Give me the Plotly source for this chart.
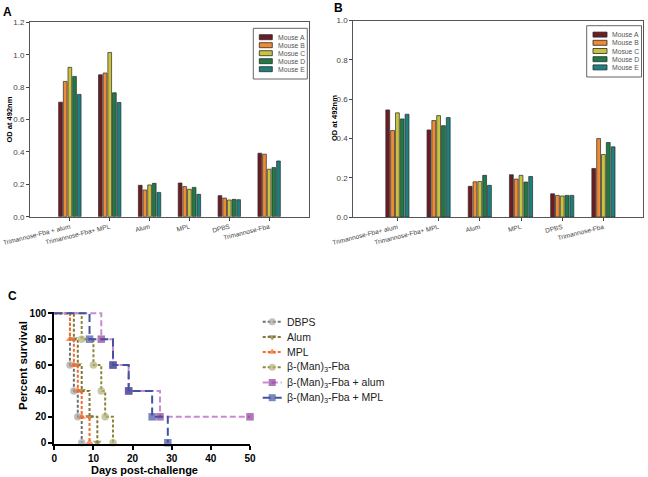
import plotly.graph_objects as go

# ---------------- data ----------------
groups_A = ["Trimannose-Fba + alum", "Trimannose-Fba+ MPL", "Alum", "MPL", "DPBS", "Trimannose-Fba"]
groups_B = ["Trimannose-Fba+ alum", "Trimannose-Fba+ MPL", "Alum", "MPL", "DPBS", "Trimannose-Fba"]
mice = ["Mouse A", "Mouse B", "Mosue C", "Mouse D", "Mouse E"]

A_mouse_a = [0.707, 0.876, 0.194, 0.208, 0.130, 0.392]
A_mouse_b = [0.835, 0.887, 0.165, 0.186, 0.115, 0.386]
A_mouse_c = [0.922, 1.014, 0.196, 0.169, 0.103, 0.293]
A_mouse_d = [0.866, 0.765, 0.206, 0.181, 0.107, 0.303]
A_mouse_e = [0.755, 0.705, 0.150, 0.138, 0.105, 0.344]

B_mouse_a = [0.545, 0.443, 0.156, 0.215, 0.118, 0.247]
B_mouse_b = [0.440, 0.491, 0.179, 0.193, 0.110, 0.399]
B_mouse_c = [0.530, 0.516, 0.181, 0.212, 0.107, 0.318]
B_mouse_d = [0.499, 0.465, 0.212, 0.178, 0.110, 0.379]
B_mouse_e = [0.523, 0.506, 0.161, 0.206, 0.110, 0.357]

surv_names = ["DBPS", "Alum", "MPL", "\u03b2-(Man)<sub>3</sub>-Fba",
              "\u03b2-(Man)<sub>3</sub>-Fba + alum", "\u03b2-(Man)<sub>3</sub>-Fba + MPL"]
dbps_days = [0, 4, 5, 6, 7]
dbps_surv = [100, 60, 40, 20, 0]
alum_days = [0, 5, 6, 7, 9, 11]
alum_surv = [100, 80, 60, 40, 20, 0]
mpl_days = [0, 4, 5, 6, 7, 9]
mpl_surv = [100, 80, 60, 40, 20, 0]
fba_days = [0, 7, 10, 12, 13, 15]
fba_surv = [100, 80, 60, 40, 20, 0]
fba_alum_days = [0, 12, 15, 19, 27, 50]
fba_alum_surv = [100, 80, 60, 40, 20, 20]
fba_mpl_days = [0, 9, 15, 19, 25, 29]
fba_mpl_surv = [100, 80, 60, 40, 20, 0]

# ---------------- styles ----------------
W, H = 648, 477
FONT = "Arial, Liberation Sans, sans-serif"
mouse_colors = ["#6d1c24", "#f08a33", "#c9c23c", "#1f7b45", "#1d8080"]
surv_styles = [
    # line color, marker color, symbol, dash
    ("#6f6f6f", "#a5a5a5", "circle", "3px,2px"),
    ("#857636", "#857636", "triangle-down", "3px,2px"),
    ("#f26a2c", "#f26a2c", "triangle-up", "3px,2px"),
    ("#8a8638", "#b3b07a", "circle", "3px,2px"),
    ("#c98bd0", "#8e3f98", "square", "6px,3px"),
    ("#4452a2", "#4452a2", "square", "8px,4px"),
]


def py(y):
    return 1 - y / H


fig = go.Figure()

A_vals = [A_mouse_a, A_mouse_b, A_mouse_c, A_mouse_d, A_mouse_e]
B_vals = [B_mouse_a, B_mouse_b, B_mouse_c, B_mouse_d, B_mouse_e]
for i, name in enumerate(mice):
    fig.add_trace(go.Bar(x=groups_A, y=A_vals[i], name=name, xaxis="x", yaxis="y",
                         marker=dict(color=mouse_colors[i], line=dict(color="#2a2a2a", width=0.7)),
                         showlegend=False))
for i, name in enumerate(mice):
    fig.add_trace(go.Bar(x=groups_B, y=B_vals[i], name=name, xaxis="x2", yaxis="y2",
                         marker=dict(color=mouse_colors[i], line=dict(color="#2a2a2a", width=0.7)),
                         showlegend=False))

surv_data = [(dbps_days, dbps_surv), (alum_days, alum_surv), (mpl_days, mpl_surv),
             (fba_days, fba_surv), (fba_alum_days, fba_alum_surv), (fba_mpl_days, fba_mpl_surv)]
for (d, s), name, (lc, mc, sym, dash) in zip(surv_data, surv_names, surv_styles):
    sizes = [0] + [7.5] * (len(d) - 1)
    fig.add_trace(go.Scatter(x=d, y=s, name=name, mode="lines+markers", xaxis="x3", yaxis="y3",
                             line=dict(shape="hv", color=lc, width=2, dash=dash),
                             marker=dict(symbol=sym, size=sizes, color=mc, line=dict(width=0)),
                             cliponaxis=False, showlegend=False))

# ---------------- custom legends (pixel helper axes) ----------------
shapes = []
annotations = []


def bar_legend(x0, x1, y0, y1, sw_x0, sw_x1, txt_x, first_y, step):
    shapes.append(dict(type="rect", xref="x4", yref="y4", x0=x0, x1=x1, y0=y0, y1=y1,
                       line=dict(color="#666666", width=1), fillcolor="white", layer="above"))
    for i, name in enumerate(mice):
        yc = first_y + i * step
        shapes.append(dict(type="rect", xref="x4", yref="y4", x0=sw_x0, x1=sw_x1,
                           y0=yc - 2.5, y1=yc + 2.5, fillcolor=mouse_colors[i],
                           line=dict(color="#2a2a2a", width=0.8), layer="above"))
        annotations.append(dict(xref="x4", yref="y4", x=txt_x, y=yc, text=name, showarrow=False,
                                xanchor="left", yanchor="middle",
                                font=dict(family=FONT, size=6.8, color="#555555")))


bar_legend(253.3, 307.3, 28.3, 79.0, 259.3, 272.3, 275.5, 37.2, 8.0)
bar_legend(586.7, 641.5, 25.7, 77.0, 593.0, 607.0, 609.8, 34.6, 8.2)

leg_y0, leg_step = 321.7, 15.2
for i, (name, (lc, mc, sym, dash)) in enumerate(zip(surv_names, surv_styles)):
    yc = leg_y0 + i * leg_step
    fig.add_trace(go.Scatter(x=[262.7, 272.2, 281.7], y=[yc, yc, yc], mode="lines+markers",
                             xaxis="x4", yaxis="y4", showlegend=False, hoverinfo="skip",
                             line=dict(color=lc, width=2, dash=dash),
                             marker=dict(symbol=sym, size=[0, 7, 0], color=mc, line=dict(width=0)),
                             cliponaxis=False))
    annotations.append(dict(xref="x4", yref="y4", x=284.5, y=yc, text=name, showarrow=False,
                            xanchor="left", yanchor="middle",
                            font=dict(family=FONT, size=10.5, color="#222222")))

# ---------------- titles / panel letters ----------------
annotations += [
    dict(xref="x4", yref="y4", x=7, y=12, text="<b>A</b>", showarrow=False,
         font=dict(family=FONT, size=12, color="black")),
    dict(xref="x4", yref="y4", x=338, y=8, text="<b>B</b>", showarrow=False,
         font=dict(family=FONT, size=12, color="black")),
    dict(xref="x4", yref="y4", x=12, y=296, text="<b>C</b>", showarrow=False,
         font=dict(family=FONT, size=12, color="black")),
    dict(xref="x4", yref="y4", x=8.5, y=120, text="<b>OD at 492nm</b>", showarrow=False,
         textangle=-90, font=dict(family=FONT, size=7.5, color="black")),
    dict(xref="x4", yref="y4", x=334.0, y=118, text="<b>OD at 492nm</b>", showarrow=False,
         textangle=-90, font=dict(family=FONT, size=7.5, color="black")),
    dict(xref="x4", yref="y4", x=23, y=366, text="<b>Percent survival</b>", showarrow=False,
         textangle=-90, font=dict(family=FONT, size=11.5, color="black")),
    dict(xref="x4", yref="y4", x=144, y=469.5, text="<b>Days post-challenge</b>", showarrow=False,
         font=dict(family=FONT, size=11, color="black")),
]

bar_x_common = dict(showgrid=False, zeroline=False, ticks="outside", ticklen=3, tickwidth=1,
                    tickcolor="#444", linecolor="#555", linewidth=1, mirror=True, automargin=False,
                    tickangle=-14, tickfont=dict(family=FONT, size=6.5, color="#444"))
bar_y_common = dict(showgrid=False, zeroline=False, ticks="outside", ticklen=3, tickwidth=1,
                    tickcolor="#444", linecolor="#555", linewidth=1, mirror=True, automargin=False,
                    dtick=0.2, tickformat=".1f", tickfont=dict(family=FONT, size=8, color="#444"))
surv_common = dict(showgrid=False, zeroline=False, ticks="outside", ticklen=4, tickwidth=2,
                   tickcolor="black", linecolor="black", linewidth=2, automargin=False,
                   tickfont=dict(family=FONT, size=10, color="black", weight="bold"))

fig.update_layout(
    template="none",
    width=W, height=H, autosize=False,
    margin=dict(l=0, r=0, t=0, b=0, pad=0),
    paper_bgcolor="white", plot_bgcolor="rgba(0,0,0,0)",
    barmode="group", bargap=0.415, bargroupgap=0.2,
    xaxis=dict(domain=[30 / W, 309 / W], anchor="y", range=[-1, 6], **bar_x_common),
    yaxis=dict(domain=[py(216.7), py(22.3)], anchor="x", range=[0, 1.2], **bar_y_common),
    xaxis2=dict(domain=[353.3 / W, 643 / W], anchor="y2", range=[-1.07, 5.96], **bar_x_common),
    yaxis2=dict(domain=[py(217), py(20.5)], anchor="x2", range=[0, 1.0], **bar_y_common),
    xaxis3=dict(domain=[54.3 / W, 250 / W], anchor="y3", range=[0, 50], dtick=10, **surv_common),
    yaxis3=dict(domain=[py(444.0), py(312.0)], anchor="x3", range=[-1, 101],
                tickvals=[0, 20, 40, 60, 80, 100], **surv_common),
    xaxis4=dict(domain=[0, 1], anchor="y4", range=[0, W], visible=False, fixedrange=True,
                automargin=False),
    yaxis4=dict(domain=[0, 1], anchor="x4", range=[H, 0], visible=False, fixedrange=True,
                automargin=False),
    shapes=shapes,
    annotations=annotations,
    showlegend=False,
)

fig.write_html("out.html", config={"displayModeBar": False},
               post_script="document.body.style.margin='0';")
